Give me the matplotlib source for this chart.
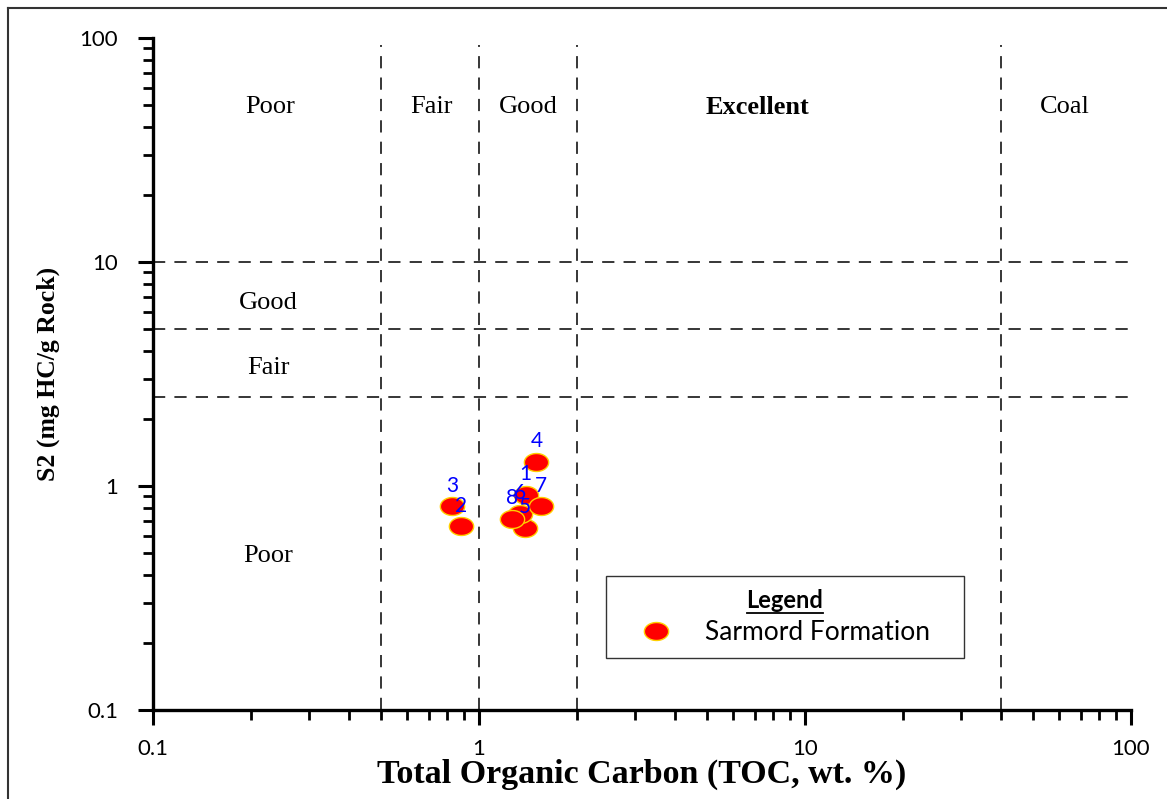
import matplotlib
matplotlib.use("Agg")
import matplotlib.pyplot as plt
import numpy as np
from matplotlib.path import Path
from matplotlib.lines import Line2D

# ---- data ----
sample_ids = ["1", "2", "3", "4", "5", "6", "7", "8"]
toc = [1.39, 0.88, 0.825, 1.50, 1.38, 1.34, 1.55, 1.26]
s2 = [0.91, 0.66, 0.81, 1.28, 0.65, 0.75, 0.81, 0.71]
series_name = "Sarmord Formation"

toc_bounds = [0.5, 1, 2, 40]
s2_bounds = [10, 5, 2.5]
top_labels = ["Poor", "Fair", "Good", "Excellent", "Coal"]
top_label_x = [0.2286, 0.713, 1.413, 7.13, 62.7]
left_labels = ["Good", "Fair", "Poor"]
left_label_y = [6.56, 3.36, 0.486]
x_ticks = [0.1, 1, 10, 100]
y_ticks = [0.1, 1, 10, 100]

W, H = 1167, 799
fig = plt.figure(figsize=(W / 100, H / 100), dpi=100)
ax = fig.add_axes([153 / W, 1 - 710 / H, (1131 - 153) / W, (710 - 38) / H])
ax.set_xscale("log")
ax.set_yscale("log")
ax.set_xlim(0.1, 100)
ax.set_ylim(0.1, 100)

for s in ["top", "right"]:
    ax.spines[s].set_visible(False)
for s in ["left", "bottom"]:
    ax.spines[s].set_linewidth(2.4)

ax.tick_params(which="major", direction="out", length=11, width=2.2, labelsize=16)
ax.tick_params(which="minor", direction="out", length=7, width=2.0)
ax.tick_params(axis="x", which="major", pad=10)
ax.tick_params(axis="y", which="major", pad=14)
ax.set_xticks(x_ticks)
ax.set_xticklabels([str(v) for v in x_ticks], family="Lato")
ax.set_yticks(y_ticks)
ax.set_yticklabels([str(v) for v in y_ticks], family="Lato")

dash = (0, (8, 6))
for xb in toc_bounds:
    ax.plot([xb, xb], [0.1, 93], color="black", lw=1.1, linestyle=dash)
for yb in s2_bounds:
    ax.plot([0.1, 100], [yb, yb], color="black", lw=1.1, linestyle=dash)

for lab, xx in zip(top_labels, top_label_x):
    ax.text(xx, 49, lab, family="Liberation Serif", fontsize=19,
            fontweight="bold" if lab == "Excellent" else "normal",
            ha="center", va="center")
for lab, yy in zip(left_labels, left_label_y):
    ax.text(0.2254, yy, lab, family="Liberation Serif", fontsize=19,
            ha="center", va="center")

# elliptical marker
t = np.linspace(0, 2 * np.pi, 60)
ell = Path(np.column_stack([np.cos(t), 0.74 * np.sin(t)]), closed=False)

ax.scatter(toc, s2, marker=ell, s=17.5 ** 2, facecolor="#ff0000",
           edgecolor="#ffd000", linewidth=1.0, zorder=5)
for sid, xv, yv in zip(sample_ids, toc, s2):
    ax.annotate(sid, (xv, yv), xytext=(0, 15), textcoords="offset points",
                ha="center", va="center", color="#0000ff", fontsize=15,
                family="Lato", zorder=6)

ax.set_xlabel("Total Organic Carbon (TOC, wt. %)", family="Liberation Serif",
              fontweight="bold", fontsize=24.5, labelpad=0)
ax.set_ylabel("S2 (mg HC/g Rock)", family="Liberation Serif",
              fontweight="bold", fontsize=18.5, labelpad=14)

handle = Line2D([], [], linestyle="none", marker=ell, markersize=17.5,
                markerfacecolor="#ff0000", markeredgecolor="#ffd000")
leg = ax.legend([handle], [series_name], title="Legend",
                loc="lower left",
                bbox_to_anchor=(606 / W, 1 - 658 / H, (964 - 606) / W, (658 - 576) / H),
                bbox_transform=fig.transFigure, mode="expand", borderaxespad=0,
                prop={"family": "Lato", "size": 19},
                title_fontproperties={"family": "Lato", "size": 17, "weight": "bold"},
                frameon=True, fancybox=False, edgecolor="black",
                borderpad=0.5, handletextpad=0.5, labelspacing=0.3,
                handlelength=2.77)
leg.get_frame().set_linewidth(1.0)

# figure frame
fig.add_artist(Line2D([8 / W, 8 / W], [0, 1 - 8 / H], transform=fig.transFigure,
                      color="#333333", lw=1.5))
fig.add_artist(Line2D([8 / W, 1], [1 - 8 / H, 1 - 8 / H], transform=fig.transFigure,
                      color="#333333", lw=1.5))

fig.canvas.draw()
bb = leg.get_title().get_window_extent()
fig.add_artist(Line2D([bb.x0 / W, bb.x1 / W], [(bb.y0 - 1) / H, (bb.y0 - 1) / H],
                      transform=fig.transFigure, color="black", lw=1.3))

fig.savefig("out.png", dpi=100)
